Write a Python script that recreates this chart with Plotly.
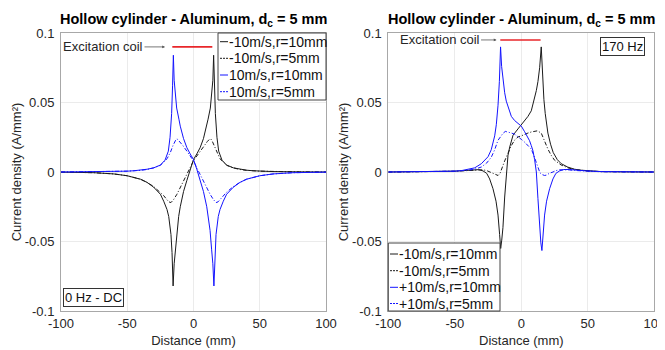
import plotly.graph_objects as go

# ---------------- DATA ----------------
# Left panel: 0 Hz - DC
dc_blue_solid_x = [-100, -80, -60, -50, -45, -40, -35, -30, -25, -21.5, -19, -17.7, -16.5, -15.8, -15.2,
                   -14.6, -13.7, -12.7, -11, -10, -7.5, -5, -2.5, 0, 2.5, 5, 7.5, 10, 11.2, 12.5, 13.7,
                   14.6, 15.4, 16.2, 17, 18.7, 20, 22.5, 25, 30, 35, 40, 50, 60, 75, 100]
dc_blue_solid_y = [0, 0.0001, 0.0003, 0.0006, 0.0009, 0.0013, 0.002, 0.003, 0.005, 0.0085, 0.015, 0.025, 0.042, 0.062, 0.084,
                   0.066, 0.055, 0.046, 0.038, 0.033, 0.024, 0.0175, 0.013, 0.009, 0.002, -0.006, -0.014, -0.025, -0.032, -0.042, -0.056,
                   -0.066, -0.082, -0.058, -0.045, -0.032, -0.027, -0.021, -0.016, -0.011, -0.0075, -0.0052, -0.0027, -0.0014, -0.0005, -0.0001]

dc_blue_dash_x = [-100, -80, -60, -50, -40, -35, -30, -25, -20, -17.5, -15.5, -14, -13, -12, -10.5, -8, -5, -2.5, 0,
                  2.5, 5, 7.5, 10, 12.5, 15, 17, 18.5, 20, 22.5, 25, 30, 35, 40, 50, 60, 75, 100]
dc_blue_dash_y = [0, 0.0001, 0.0003, 0.0006, 0.0012, 0.0018, 0.003, 0.0048, 0.0095, 0.014, 0.019, 0.0225, 0.0238, 0.0235, 0.022, 0.019, 0.015, 0.0115, 0.008,
                  0.003, -0.002, -0.007, -0.011, -0.016, -0.0198, -0.022, -0.0215, -0.020, -0.017, -0.0145, -0.0105, -0.0075, -0.0052, -0.0027, -0.0014, -0.0005, -0.0001]

dc_black_solid_x = [-100, -75, -60, -50, -40, -35, -30, -25, -22.5, -20, -18.7, -17, -16.2, -15.4, -14.6, -13.7, -12.5,
                    -11.2, -10, -7.5, -5, -2.5, 0, 2.5, 5, 7.5, 10, 11, 12.7, 13.7, 14.6, 15.2, 15.8, 16.5, 17.7,
                    19, 21.5, 25, 30, 35, 40, 45, 50, 60, 80, 100]
dc_black_solid_y = [-0.0001, -0.0005, -0.0014, -0.0027, -0.0052, -0.0075, -0.011, -0.016, -0.021, -0.027, -0.032, -0.045, -0.058, -0.082, -0.066, -0.056, -0.042,
                    -0.032, -0.025, -0.014, -0.006, 0.002, 0.009, 0.013, 0.0175, 0.024, 0.033, 0.038, 0.046, 0.055, 0.066, 0.084, 0.062, 0.042, 0.025,
                    0.015, 0.0085, 0.005, 0.003, 0.002, 0.0013, 0.0009, 0.0006, 0.0003, 0.0001, 0]

dc_black_dash_x = [-100, -75, -60, -50, -40, -35, -30, -25, -22.5, -20, -18.5, -17, -15, -12.5, -10, -7.5, -5, -2.5, 0,
                   2.5, 5, 8, 10.5, 12, 13, 14, 15.5, 17.5, 20, 25, 30, 35, 40, 50, 60, 80, 100]
dc_black_dash_y = [-0.0001, -0.0005, -0.0014, -0.0027, -0.0052, -0.0075, -0.0105, -0.0145, -0.017, -0.020, -0.0215, -0.022, -0.0198, -0.016, -0.011, -0.007, -0.002, 0.003, 0.008,
                   0.0115, 0.015, 0.019, 0.022, 0.0235, 0.0238, 0.0225, 0.019, 0.014, 0.0095, 0.0048, 0.003, 0.0018, 0.0012, 0.0006, 0.0003, 0.0001, 0]

# Right panel: 170 Hz
ac_blue_solid_x = [-100, -80, -60, -50, -45, -40, -35, -30, -25, -22.6, -20, -18.8, -17.5, -16.5, -15.6, -14.8, -13.8,
                   -12.5, -11.3, -9, -7.5, -5, -2.5, 0, 2.5, 5, 6.2, 7.5, 8.7, 10, 11.3, 12.5, 13.8, 14.7, 15.5,
                   16.3, 17.5, 19, 21.3, 23.8, 26, 28.8, 32, 36, 40, 45, 50, 60, 75, 100]
ac_blue_solid_y = [0, 0.0001, 0.0003, 0.0006, 0.001, 0.0018, 0.003, 0.006, 0.011, 0.016, 0.026, 0.034, 0.048, 0.065, 0.090, 0.076, 0.066,
                   0.057, 0.051, 0.044, 0.040, 0.037, 0.035, 0.033, 0.029, 0.025, 0.0225, 0.019, 0.0155, 0.009, 0.0, -0.019, -0.043, -0.051, -0.0565,
                   -0.045, -0.031, -0.021, -0.012, -0.005, -0.001, 0.0008, 0.0018, 0.0018, 0.0014, 0.001, 0.0007, 0.0003, 0.0001, 0]

ac_blue_dash_x = [-100, -75, -60, -50, -40, -35, -30, -26, -22.6, -20, -17.6, -15.5, -13.8, -12, -10.5, -8, -5, -2.5, 0,
                  2.5, 5, 7.5, 9, 10, 11.3, 12.5, 14, 15.5, 17.5, 19, 21, 23.8, 26, 28.8, 32, 36, 40, 45, 50, 60, 75, 100]
ac_blue_dash_y = [0, 0.0001, 0.0003, 0.0006, 0.0013, 0.002, 0.0036, 0.0065, 0.0106, 0.016, 0.0227, 0.026, 0.0278, 0.0292, 0.029, 0.0282, 0.0272, 0.025, 0.0235,
                  0.0215, 0.019, 0.0165, 0.013, 0.010, 0.006, 0.0025, -0.0005, -0.0018, -0.0025, -0.0022, -0.001, 0.0, 0.001, 0.0016, 0.0017, 0.0015, 0.0011, 0.0008, 0.0005, 0.0002, 0.0001, 0]

ac_black_solid_x = [-100, -75, -60, -50, -45, -40, -36, -32, -28.8, -26, -23.8, -21.3, -19, -17.5, -16.3, -15.5, -14.7,
                    -13.8, -12.5, -11.3, -10, -8.7, -6.2, -2.5, 0, 2.5, 5, 7.5, 9, 11.3, 12.5, 13.8, 15, 16, 17,
                    18, 19, 20, 22, 24, 27, 30, 35, 40, 45, 50, 60, 80, 100]
ac_black_solid_y = [0, 0.0001, 0.0003, 0.0006, 0.0009, 0.0013, 0.0017, 0.0017, 0.0008, -0.001, -0.005, -0.012, -0.021, -0.031, -0.045, -0.055, -0.049,
                    -0.040, -0.018, 0.0, 0.012, 0.018, 0.0265, 0.031, 0.034, 0.037, 0.040, 0.044, 0.049, 0.0586, 0.065, 0.075, 0.090, 0.068, 0.052,
                    0.042, 0.034, 0.028, 0.020, 0.014, 0.009, 0.006, 0.0035, 0.002, 0.0013, 0.0008, 0.0003, 0.0001, 0]

ac_black_dash_x = [-100, -75, -60, -50, -45, -40, -36, -32, -28.8, -26, -23.8, -21, -19, -17.5, -16, -15, -12.5, -10, -7.5,
                   -5, -2.5, 0, 2.5, 5, 7.5, 10, 12, 15, 17.5, 20, 22.5, 25, 30, 35, 40, 50, 60, 80, 100]
ac_black_dash_y = [0, 0.0001, 0.0003, 0.0005, 0.0008, 0.0011, 0.0015, 0.0017, 0.0016, 0.001, 0.0, -0.001, -0.002, -0.0025, -0.001, 0.002, 0.008, 0.0135, 0.019,
                   0.023, 0.0252, 0.026, 0.0272, 0.028, 0.0288, 0.0295, 0.0296, 0.028, 0.022, 0.0165, 0.012, 0.0085, 0.005, 0.003, 0.0018, 0.0007, 0.0003, 0.0001, 0]

# Excitation coil segments
coil_left_x = [-16, 14.2]
coil_left_y = [0.09, 0.09]
coil_right_x = [-15.8, 14.5]
coil_right_y = [0.095, 0.095]

# Tick labels and texts
x_ticks = [-100, -50, 0, 50, 100]
x_tick_text = ["-100", "-50", "0", "50", "100"]
y_ticks = [-0.1, -0.05, 0, 0.05, 0.1]
y_tick_text = ["-0.1", "-0.05", "0", "0.05", "0.1"]
left_legend_names = ["-10m/s,r=10mm", "-10m/s,r=5mm", "10m/s,r=10mm", "10m/s,r=5mm"]
right_legend_names = ["-10m/s,r=10mm", "-10m/s,r=5mm", "+10m/s,r=10mm", "+10m/s,r=5mm"]
title_text = "<b>Hollow cylinder - Aluminum, d<sub>c</sub> = 5 mm</b>"
x_title = "Distance (mm)"
y_title = "Current density (A/mm²)"

# ---------------- STYLE / GEOMETRY ----------------
WIN_W, WIN_H = 665, 350
OFF = 8                      # the page body margin offsets the figure by 8 px
W, H = WIN_W - OFF, WIN_H - OFF
FONT = "Liberation Sans, Arial, sans-serif"
BLACK = "#1a1a1a"
BLUE = "#1414ff"
RED = "#e8262a"
DASHDOT = "4px,2px,1px,2px"
TXT = "#262626"


def px(x):
    """window x pixel -> paper fraction"""
    return (x - OFF) / W


def py(y):
    """window y pixel -> paper fraction"""
    return 1 - (y - OFF) / H


fig = go.Figure()

styles = [(BLACK, "solid"), (BLACK, DASHDOT), (BLUE, "solid"), (BLUE, DASHDOT)]
left_data = [(dc_black_solid_x, dc_black_solid_y), (dc_black_dash_x, dc_black_dash_y),
             (dc_blue_solid_x, dc_blue_solid_y), (dc_blue_dash_x, dc_blue_dash_y)]
right_data = [(ac_black_solid_x, ac_black_solid_y), (ac_black_dash_x, ac_black_dash_y),
              (ac_blue_solid_x, ac_blue_solid_y), (ac_blue_dash_x, ac_blue_dash_y)]

for (xs, ys), (c, d), name in zip(left_data, styles, left_legend_names):
    fig.add_trace(go.Scatter(x=xs, y=ys, mode="lines", name=name, showlegend=False,
                             line=dict(color=c, width=1, dash=d), xaxis="x", yaxis="y"))
for (xs, ys), (c, d), name in zip(right_data, styles, right_legend_names):
    fig.add_trace(go.Scatter(x=xs, y=ys, mode="lines", name=name, showlegend=False,
                             line=dict(color=c, width=1, dash=d), xaxis="x2", yaxis="y2"))

fig.add_trace(go.Scatter(x=coil_left_x, y=coil_left_y, mode="lines", showlegend=False,
                         line=dict(color=RED, width=1.6), xaxis="x", yaxis="y"))
fig.add_trace(go.Scatter(x=coil_right_x, y=coil_right_y, mode="lines", showlegend=False,
                         line=dict(color=RED, width=1.6), xaxis="x2", yaxis="y2"))

LEFT_X = [61, 326]
RIGHT_X = [388.3, 654.3]
Y_DOM = [py(311), py(33)]

axis_common = dict(range=[-100, 100], tickvals=x_ticks, ticktext=x_tick_text, showgrid=True,
                   gridcolor="#ebebeb", gridwidth=1, showline=True, linecolor="#a8a8a8", linewidth=1,
                   mirror=True, zeroline=False, ticks="", automargin=False, ticklabeloverflow="allow",
                   tickfont=dict(family=FONT, size=13, color=TXT),
                   title=dict(text=x_title, standoff=6, font=dict(family=FONT, size=13, color=TXT)))
yaxis_common = dict(range=[-0.1, 0.1], tickvals=y_ticks, ticktext=y_tick_text, showgrid=True,
                    gridcolor="#ebebeb", gridwidth=1, showline=True, linecolor="#a8a8a8", linewidth=1,
                    mirror=True, zeroline=False, ticks="", ticklabelstandoff=3, automargin=False,
                    ticklabeloverflow="allow",
                    tickfont=dict(family=FONT, size=13, color=TXT), domain=Y_DOM,
                    title=dict(text=y_title, standoff=0, font=dict(family=FONT, size=13, color=TXT)))

fig.update_layout(
    width=W, height=H, margin=dict(l=0, r=0, t=0, b=0, pad=0, autoexpand=False),
    paper_bgcolor="white", plot_bgcolor="white", showlegend=False,
    xaxis=dict(axis_common, domain=[px(LEFT_X[0]), px(LEFT_X[1])], anchor="y"),
    yaxis=dict(yaxis_common, anchor="x"),
    xaxis2=dict(axis_common, domain=[px(RIGHT_X[0]), px(RIGHT_X[1])], anchor="y2"),
    yaxis2=dict(yaxis_common, anchor="x2"),
    font=dict(family=FONT, color=TXT, size=13),
)

annotations = []
shapes = []

# Subplot titles
for (x0, x1) in [LEFT_X, RIGHT_X]:
    cx = (x0 + x1) / 2
    annotations.append(dict(text=title_text, x=px(cx), y=py(9), xref="paper", yref="paper",
                            xanchor="center", yanchor="top", showarrow=False,
                            font=dict(family=FONT, size=14.5, color="#000")))

# Excitation coil arrows
annotations.append(dict(text="Excitation coil", x=-21.5, y=coil_left_y[0], xref="x", yref="y",
                        ax=-62, ay=0, axref="pixel", ayref="pixel", showarrow=True, arrowhead=2,
                        arrowsize=0.7, arrowwidth=0.8, arrowcolor="#555", standoff=0,
                        font=dict(family=FONT, size=13, color=TXT)))
annotations.append(dict(text="Excitation coil", x=-18.6, y=coil_right_y[0], xref="x2", yref="y2",
                        ax=-57, ay=0, axref="pixel", ayref="pixel", showarrow=True, arrowhead=2,
                        arrowsize=0.7, arrowwidth=0.8, arrowcolor="#555", standoff=0,
                        font=dict(family=FONT, size=13, color=TXT)))

# Boxed frequency labels
annotations.append(dict(text="0 Hz - DC", x=px(63), y=py(307), xref="paper", yref="paper",
                        xanchor="left", yanchor="bottom", showarrow=False, bgcolor="white",
                        bordercolor="#333", borderwidth=1, borderpad=1,
                        font=dict(family=FONT, size=13, color="#111")))
annotations.append(dict(text="170 Hz", x=px(645), y=py(37), xref="paper", yref="paper",
                        xanchor="right", yanchor="top", showarrow=False, bgcolor="white",
                        bordercolor="#333", borderwidth=1, borderpad=1,
                        font=dict(family=FONT, size=13, color="#111")))

# Manual legends (short line samples like the original)
legend_specs = [
    dict(box=(218, 33, 326, 100), rows=[41.7, 58.3, 75, 91.7], sx=(220, 228), tx=228, names=left_legend_names),
    dict(box=(388.3, 243, 500, 311), rows=[254, 270.7, 287.3, 303.5], sx=(390, 398), tx=398, names=right_legend_names),
]
for spec in legend_specs:
    bx0, by0, bx1, by1 = spec["box"]
    shapes.append(dict(type="rect", xref="paper", yref="paper", x0=px(bx0), x1=px(bx1),
                       y0=py(by1), y1=py(by0), fillcolor="white", line=dict(color="#444", width=1),
                       layer="above"))
    for ry, (c, d), name in zip(spec["rows"], styles, spec["names"]):
        shapes.append(dict(type="line", xref="paper", yref="paper", x0=px(spec["sx"][0]), x1=px(spec["sx"][1]),
                           y0=py(ry), y1=py(ry), line=dict(color=c, width=1, dash="2px,1px" if d != "solid" else "solid"),
                           layer="above"))
        annotations.append(dict(text=name, x=px(spec["tx"]), y=py(ry), xref="paper", yref="paper",
                                xanchor="left", yanchor="middle", showarrow=False, borderpad=0,
                                font=dict(family=FONT, size=14, color="#111")))

fig.update_layout(annotations=annotations, shapes=shapes)

fig.write_html("out.html")
